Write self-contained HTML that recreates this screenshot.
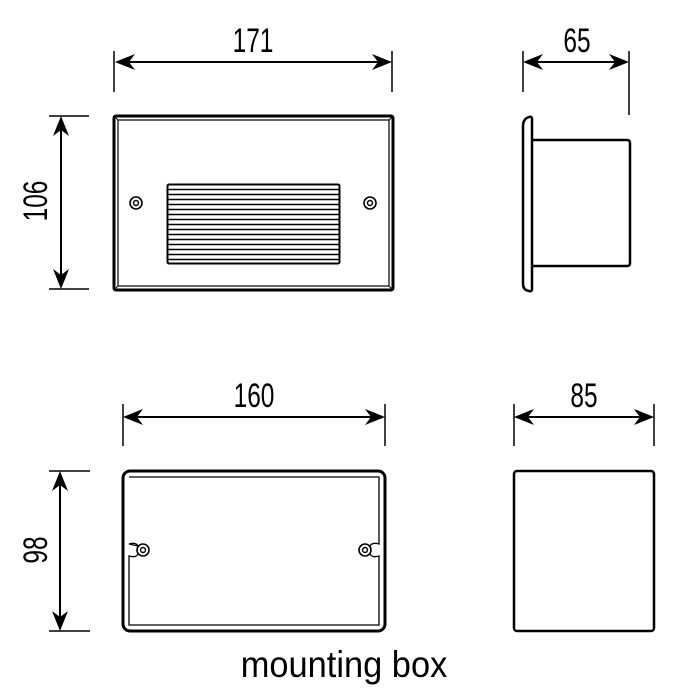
<!DOCTYPE html>
<html><head><style>html,body{margin:0;padding:0;background:#fff;}svg{display:block}</style></head>
<body>
<svg width="700" height="700" viewBox="0 0 700 700" xmlns="http://www.w3.org/2000/svg">
<g stroke="#000" fill="none">
<!-- top front -->
<line x1="114" y1="51" x2="114" y2="92" stroke-width="1.5"/>
<line x1="392" y1="51" x2="392" y2="92" stroke-width="1.5"/>
<line x1="120" y1="62" x2="386" y2="62" stroke-width="2"/>
<line x1="49" y1="116" x2="89" y2="116" stroke-width="1.5"/>
<line x1="49" y1="289" x2="89" y2="289" stroke-width="1.5"/>
<line x1="61" y1="122" x2="61" y2="283" stroke-width="2"/>
<rect x="114" y="116" width="279" height="174" rx="2" stroke-width="3"/>
<rect x="118" y="120" width="271" height="166" stroke-width="1.2"/>
<line x1="114" y1="116" x2="118" y2="120" stroke-width="1"/>
<line x1="393" y1="116" x2="389" y2="120" stroke-width="1"/>
<line x1="114" y1="290" x2="118" y2="286" stroke-width="1"/>
<line x1="393" y1="290" x2="389" y2="286" stroke-width="1"/>
<rect x="167.5" y="184.5" width="172" height="79" rx="1.5" stroke-width="2"/>
<g stroke-width="1.4">
<line x1="168" y1="189.5" x2="339" y2="189.5"/><line x1="168" y1="194.5" x2="339" y2="194.5"/>
<line x1="168" y1="199.5" x2="339" y2="199.5"/><line x1="168" y1="204.5" x2="339" y2="204.5"/>
<line x1="168" y1="209.5" x2="339" y2="209.5"/><line x1="168" y1="214.5" x2="339" y2="214.5"/>
<line x1="168" y1="219.5" x2="339" y2="219.5"/><line x1="168" y1="224.5" x2="339" y2="224.5"/>
<line x1="168" y1="229.5" x2="339" y2="229.5"/><line x1="168" y1="234.5" x2="339" y2="234.5"/>
<line x1="168" y1="239.5" x2="339" y2="239.5"/><line x1="168" y1="244.5" x2="339" y2="244.5"/>
<line x1="168" y1="249.5" x2="339" y2="249.5"/><line x1="168" y1="254.5" x2="339" y2="254.5"/>
<line x1="168" y1="259.5" x2="339" y2="259.5"/>
</g>
<circle cx="136" cy="203" r="6" stroke-width="1.6"/><circle cx="136" cy="203" r="2.5" stroke-width="1.4"/>
<circle cx="370" cy="203" r="6" stroke-width="1.6"/><circle cx="370" cy="203" r="2.5" stroke-width="1.4"/>
<!-- side -->
<line x1="523" y1="51" x2="523" y2="92" stroke-width="1.5"/>
<line x1="629" y1="51" x2="629" y2="115" stroke-width="1.5"/>
<line x1="529" y1="62" x2="623" y2="62" stroke-width="2"/>
<path d="M532,119 Q532,116 529,117 Q523,119 523,126 L523,284 Q523,290 529,291 Q532,292 532,289 Z" stroke-width="2.5"/>
<path d="M532,140 L627,140 Q630,140 630,143 L630,263 Q630,266 627,266 L532,266" stroke-width="2.5"/>
<!-- bottom front -->
<line x1="123" y1="404" x2="123" y2="446" stroke-width="1.5"/>
<line x1="385" y1="404" x2="385" y2="446" stroke-width="1.5"/>
<line x1="129" y1="417" x2="379" y2="417" stroke-width="2"/>
<line x1="49" y1="471" x2="90" y2="471" stroke-width="1.5"/>
<line x1="49" y1="631" x2="90" y2="631" stroke-width="1.5"/>
<line x1="60" y1="477" x2="60" y2="625" stroke-width="2"/>
<rect x="123" y="471" width="262" height="160" rx="7" stroke-width="3"/>
<path d="M129,477 H379 V544 Q372,542 370,546 M370,554 Q372,558 379,556 V625 H129 V556 Q136,558 138,554 M138,546 Q136,542 129,544 Z" stroke-width="1.3"/>
<circle cx="143" cy="550" r="6" stroke-width="1.6"/><circle cx="143" cy="550" r="2.5" stroke-width="1.4"/>
<circle cx="365" cy="550" r="6" stroke-width="1.6"/><circle cx="365" cy="550" r="2.5" stroke-width="1.4"/>
<!-- bottom side -->
<line x1="514" y1="404" x2="514" y2="446" stroke-width="1.5"/>
<line x1="654" y1="404" x2="654" y2="446" stroke-width="1.5"/>
<line x1="520" y1="417" x2="648" y2="417" stroke-width="2"/>
<rect x="514" y="471" width="140" height="160" rx="3" stroke-width="2.5"/>
</g>
<g fill="#000">
<!-- arrowheads -->
<path d="M115,62 L135,54 L129,62 L135,70 Z"/>
<path d="M392,62 L372,54 L378,62 L372,70 Z"/>
<path d="M523,62 L543,54 L537,62 L543,70 Z"/>
<path d="M629,62 L609,54 L615,62 L609,70 Z"/>
<path d="M123,417 L143,409 L137,417 L143,425 Z"/>
<path d="M385,417 L365,409 L371,417 L365,425 Z"/>
<path d="M514,417 L534,409 L528,417 L534,425 Z"/>
<path d="M654,417 L634,409 L640,417 L634,425 Z"/>
<path d="M61,116 L53,136 L61,130 L69,136 Z"/>
<path d="M61,289 L53,269 L61,275 L69,269 Z"/>
<path d="M60,471 L52,491 L60,485 L68,491 Z"/>
<path d="M60,631 L52,611 L60,617 L68,611 Z"/>
</g>
<g font-family="Liberation Sans, sans-serif" font-size="34" fill="#000" text-anchor="middle">
<text transform="translate(253,52) scale(0.72,1)">171</text>
<text transform="translate(577,52) scale(0.72,1)">65</text>
<text transform="translate(254,407) scale(0.72,1)">160</text>
<text transform="translate(584,407) scale(0.72,1)">85</text>
<text transform="translate(47,201) rotate(-90) scale(0.72,1)">106</text>
<text transform="translate(47,550) rotate(-90) scale(0.72,1)">98</text>
<text transform="translate(344,677) scale(0.93,1)" font-size="37">mounting box</text>
</g>
</svg>
</body></html>
